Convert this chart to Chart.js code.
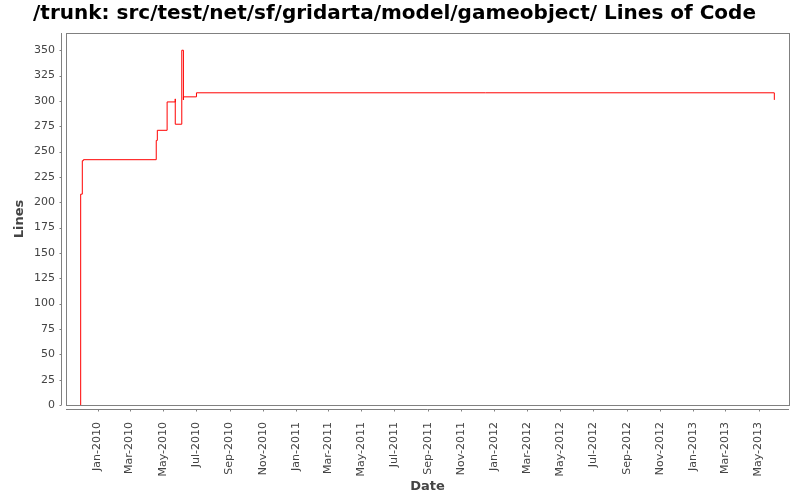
<!DOCTYPE html>
<html>
<head>
<meta charset="utf-8">
<script src="https://cdn.jsdelivr.net/npm/chart.js@4/dist/chart.umd.min.js"></script>
<style>
  html, body { margin: 0; padding: 0; background: #fff; }
  #wrap { width: 800px; height: 500px; }
</style>
</head>
<body>
<div id="wrap"><canvas id="locChart" width="800" height="500"></canvas></div>
<script>
// data
let revDates = [
  "2009-12-01", "2009-12-01", "2009-12-04", "2009-12-06",
  "2010-04-19", "2010-04-21", "2010-05-09", "2010-05-24",
  "2010-05-24", "2010-06-05", "2010-06-08", "2010-06-08",
  "2010-07-02", "2013-05-30",
];
let revLines = [0, 208, 241, 242, 261, 271, 299, 302, 277, 350, 301, 304, 308, 301];

let tickLabels = [
  "Jan-2010", "Mar-2010", "May-2010", "Jul-2010", "Sep-2010", "Nov-2010",
  "Jan-2011", "Mar-2011", "May-2011", "Jul-2011", "Sep-2011", "Nov-2011",
  "Jan-2012", "Mar-2012", "May-2012", "Jul-2012", "Sep-2012", "Nov-2012",
  "Jan-2013", "Mar-2013", "May-2013",
];
let xStart = "2009-11-04";
let xEnd = "2013-06-26";
let yMax = 367;
let yStep = 25;

let months = { Jan: 0, Feb: 1, Mar: 2, Apr: 3, May: 4, Jun: 5, Jul: 6, Aug: 7, Sep: 8, Oct: 9, Nov: 10, Dec: 11 };
let tickValues = tickLabels.map((l) => {
  let [m, y] = l.split("-");
  return Date.UTC(+y, months[m], 1);
});

let points = revDates.map((d, i) => ({ x: Date.parse(d), y: revLines[i] }));

const axisColor = "#808080";
const tickColor = "#444444";

// jfreechart-like frame: plot outline plus axis lines set a few px off it
const framePlugin = {
  id: "frame",
  afterDraw(chart) {
    const { ctx, chartArea: a, scales } = chart;
    ctx.save();
    ctx.strokeStyle = axisColor;
    ctx.lineWidth = 1;
    ctx.strokeRect(a.left + 0.5, a.top + 0.5, a.right - a.left, a.bottom - a.top);

    let axX = a.left - 4.5;
    let axY = a.bottom + 4.5;
    ctx.beginPath();
    ctx.moveTo(axX, a.top);
    ctx.lineTo(axX, a.bottom);
    ctx.moveTo(a.left, axY);
    ctx.lineTo(a.right, axY);
    scales.y.ticks.forEach((t) => {
      let py = Math.round(scales.y.getPixelForValue(t.value)) + 0.5;
      ctx.moveTo(axX - 2, py);
      ctx.lineTo(axX, py);
    });
    scales.x.ticks.forEach((t) => {
      let px = Math.round(scales.x.getPixelForValue(t.value)) + 0.5;
      ctx.moveTo(px, axY);
      ctx.lineTo(px, axY + 2);
    });
    ctx.stroke();
    ctx.restore();
  },
};

const ctx = document.getElementById("locChart").getContext("2d");
const locChart = new Chart(ctx, {
  type: "line",
  data: {
    datasets: [
      {
        data: points,
        borderColor: "#ff0000",
        borderWidth: 1,
        stepped: true,
        pointRadius: 0,
        fill: false,
      },
    ],
  },
  options: {
    responsive: false,
    animation: false,
    layout: { padding: { left: 0, right: 11, top: 0, bottom: 0 } },
    plugins: {
      legend: { display: false },
      tooltip: { enabled: false },
      title: {
        display: true,
        text: "/trunk: src/test/net/sf/gridarta/model/gameobject/ Lines of Code",
        color: "#000",
        font: { family: "DejaVu Sans", size: 20, weight: "bold", lineHeight: 1.2 },
        padding: { top: 2, bottom: 7 },
      },
    },
    scales: {
      x: {
        type: "linear",
        min: Date.parse(xStart),
        max: Date.parse(xEnd),
        afterBuildTicks: (s) => {
          s.ticks = tickValues.map((v) => ({ value: v }));
        },
        afterFit: (s) => {
          s.height = 95;
        },
        grid: { display: false, drawTicks: false },
        border: { display: false },
        ticks: {
          autoSkip: false,
          maxRotation: 90,
          minRotation: 90,
          padding: 17,
          color: tickColor,
          font: { family: "DejaVu Sans", size: 11 },
          callback: (v, i) => tickLabels[i],
        },
        title: {
          display: true,
          text: "Date",
          color: tickColor,
          font: { family: "DejaVu Sans", size: 13, weight: "bold", lineHeight: 1.2 },
          padding: { top: 0, bottom: 6 },
        },
      },
      y: {
        min: 0,
        max: yMax,
        afterFit: (s) => {
          s.width = 66;
        },
        grid: { display: false, drawTicks: false },
        border: { display: false },
        ticks: {
          stepSize: yStep,
          includeBounds: false,
          padding: 11,
          color: tickColor,
          font: { family: "DejaVu Sans", size: 11 },
        },
        title: {
          display: true,
          text: "Lines",
          color: tickColor,
          font: { family: "DejaVu Sans", size: 13, weight: "bold", lineHeight: 1.2 },
          padding: { top: 12, bottom: 0 },
        },
      },
    },
  },
  plugins: [framePlugin],
});
</script>
</body>
</html>
